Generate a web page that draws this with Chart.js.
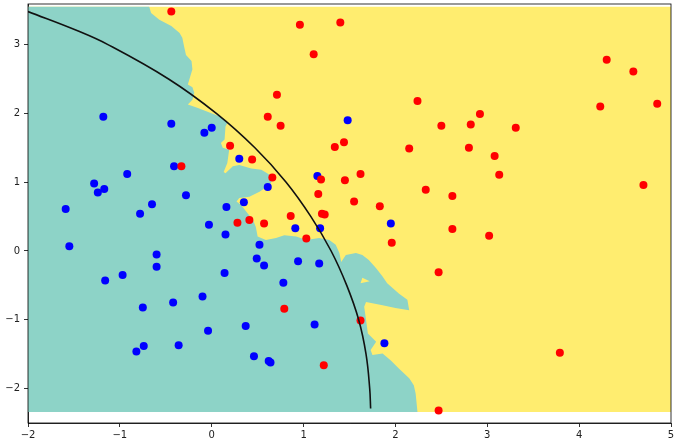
<!DOCTYPE html>
<html>
<head>
<meta charset="utf-8">
<script src="https://cdn.jsdelivr.net/npm/chart.js@4.4.0/dist/chart.umd.min.js"></script>
<style>
  html, body { margin: 0; padding: 0; background: #fff; }
  #chart { display: block; }
</style>
</head>
<body>
<canvas id="chart" width="675" height="441"></canvas>
<script>
var xTicks = [-2, -1, 0, 1, 2, 3, 4, 5];
var yTicks = [-2, -1, 0, 1, 2, 3];

// class 0 samples
var blueX = [-1.18, -0.44, -0.08, 0.00, 0.30, 1.48, -0.41, -0.92, -1.28, -1.17,
             -1.24, -0.28, -1.59, -0.65, -0.78, 0.16, -0.03, 0.15, -1.55, -0.60,
             -0.60, 0.14, -0.97, -1.16, 0.35, 0.61, 1.15, 0.91, 1.18, 1.95,
             0.52, 0.49, 0.57, 0.94, 1.17, 0.78, -0.10, -0.42, -0.75, -0.04,
             -0.74, -0.36, -0.82, 0.37, 1.12, 1.88, 0.46, 0.62, 0.64];
var blueY = [1.95, 1.85, 1.72, 1.79, 1.34, 1.90, 1.23, 1.12, 0.98, 0.90,
             0.85, 0.81, 0.61, 0.68, 0.54, 0.64, 0.38, 0.24, 0.07, -0.05,
             -0.23, -0.32, -0.35, -0.43, 0.71, 0.93, 1.09, 0.33, 0.33, 0.40,
             0.09, -0.11, -0.21, -0.15, -0.18, -0.46, -0.66, -0.75, -0.82, -1.16,
             -1.38, -1.37, -1.46, -1.09, -1.07, -1.34, -1.53, -1.60, -1.62];

// class 1 samples
var redX = [-0.44, 0.96, 1.40, 1.11, 0.71, 0.61, 0.75, 2.24, 2.50, 0.20,
            1.34, 1.44, 2.15, 4.30, 4.59, 4.23, 4.85, 2.92, 2.82, 3.31,
            2.80, 3.08, 3.13, 4.70, -0.33, 0.44, 0.66, 1.19, 1.45, 1.62,
            1.16, 1.55, 1.83, 2.33, 2.62, 0.86, 1.20, 1.23, 0.28, 0.41,
            0.57, 1.03, 1.96, 2.62, 3.02, 2.47, 0.79, 1.62, 1.22, 2.47, 3.79];
var redY = [3.48, 3.29, 3.32, 2.86, 2.27, 1.95, 1.82, 2.18, 1.82, 1.53,
            1.51, 1.58, 1.49, 2.78, 2.61, 2.10, 2.14, 1.99, 1.84, 1.79,
            1.50, 1.38, 1.11, 0.96, 1.23, 1.33, 1.07, 1.04, 1.03, 1.12,
            0.83, 0.72, 0.65, 0.89, 0.80, 0.51, 0.54, 0.53, 0.41, 0.45,
            0.40, 0.18, 0.12, 0.32, 0.22, -0.31, -0.84, -1.01, -1.66, -2.32, -1.48];

// reference boundary curve
var arcX = [-2.00, -1.46, -1.13, -0.47, 0.05, 0.47, 0.81, 1.08, 1.30, 1.47, 1.60, 1.68, 1.72, 1.73];
var arcY = [3.48, 3.20, 3.00, 2.50, 2.00, 1.50, 1.00, 0.50, 0.00, -0.50, -1.00, -1.50, -2.00, -2.29];

// grid extent of the classifier map
var meshX = [-2, 5, 5, -2];
var meshY = [-2.34, -2.34, 3.55, 3.55];

// region predicted as class 0
var tealX = [-2, -2, -0.68, -0.66, -0.57, -0.44, -0.35, -0.32, -0.30, -0.28,
             -0.22, -0.21, -0.26, -0.21, -0.19, -0.21, -0.26, -0.15, 0.08, 0.17,
             0.15, 0.14, 0.10, 0.12, 0.19, 0.17, 0.13, 0.15, 0.23, 0.30,
             0.43, 0.54, 0.63, 0.66, 0.63, 0.52, 0.41, 0.30, 0.27, 0.32,
             0.39, 0.45, 0.48, 0.50, 0.59, 0.70, 0.79, 0.92, 1.03, 1.17,
             1.28, 1.35, 1.39, 1.41, 1.46, 1.57, 1.64, 1.71, 1.79, 1.86,
             1.91, 2.04, 2.13, 2.15, 2.00, 1.86, 1.68, 1.66, 1.68, 1.70,
             1.79, 1.73, 1.75, 1.86, 1.95, 2.04, 2.15, 2.20, 2.22, 2.24];
var tealY = [-2.34, 3.55, 3.55, 3.46, 3.36, 3.27, 3.17, 3.10, 2.97, 2.85,
             2.76, 2.64, 2.42, 2.38, 2.30, 2.20, 2.13, 2.08, 1.96, 1.86,
             1.81, 1.62, 1.57, 1.50, 1.47, 1.28, 1.15, 1.13, 1.23, 1.25,
             1.20, 1.18, 1.11, 1.03, 0.96, 0.86, 0.79, 0.77, 0.72, 0.67,
             0.55, 0.45, 0.35, 0.21, 0.16, 0.19, 0.23, 0.21, 0.16, 0.19,
             0.16, 0.09, -0.03, -0.16, -0.06, -0.03, -0.06, -0.13, -0.25, -0.37,
             -0.47, -0.62, -0.71, -0.86, -0.83, -0.79, -0.74, -0.81, -1.00, -1.20,
             -1.32, -1.44, -1.51, -1.49, -1.59, -1.71, -1.85, -1.95, -2.07, -2.34];

// small class 1 patch inside the class 0 region
var islandX = [1.62, 1.64, 1.72];
var islandY = [-0.47, -0.39, -0.44];

function toPoints(xs, ys) {
  var pts = [];
  for (var i = 0; i < xs.length; i++) {
    pts.push({x: xs[i], y: ys[i]});
  }
  return pts;
}

function minus(v) {
  return String(v).replace('-', '\u2212');
}

var tickFont = {family: 'DejaVu Sans', size: 10};

var frame = {
  id: 'frame',
  afterDraw: function(chart) {
    var a = chart.chartArea, ctx = chart.ctx;
    ctx.save();
    ctx.strokeStyle = '#000';
    ctx.lineWidth = 0.8;
    ctx.strokeRect(a.left, a.top, a.right - a.left, a.bottom - a.top);
    ctx.restore();
  }
};

function region(xs, ys, color, order) {
  return {
    data: toPoints(xs, ys),
    showLine: true,
    fill: 'shape',
    backgroundColor: color,
    borderWidth: 0,
    pointRadius: 0,
    tension: 0,
    order: order
  };
}

var chart = new Chart(document.getElementById('chart'), {
  type: 'scatter',
  data: {
    datasets: [
      region(meshX, meshY, '#ffed6f', 10),
      region(tealX, tealY, '#8dd3c7', 9),
      region(islandX, islandY, '#ffed6f', 8),
      {
        data: toPoints(blueX, blueY),
        backgroundColor: '#0000ff',
        borderWidth: 0,
        pointRadius: 4,
        order: 3
      },
      {
        data: toPoints(redX, redY),
        backgroundColor: '#ff0000',
        borderWidth: 0,
        pointRadius: 4,
        order: 2
      },
      {
        data: toPoints(arcX, arcY),
        showLine: true,
        borderColor: '#111',
        borderWidth: 1.6,
        pointRadius: 0,
        fill: false,
        tension: 0.4,
        order: 1
      }
    ]
  },
  options: {
    responsive: false,
    animation: false,
    devicePixelRatio: 1,
    layout: {padding: {top: 4, right: 3, left: 0, bottom: 0}},
    plugins: {legend: {display: false}, tooltip: {enabled: false}},
    scales: {
      x: {
        type: 'linear',
        min: -2,
        max: 5,
        afterBuildTicks: function(s) { s.ticks = xTicks.map(function(v) { return {value: v}; }); },
        afterFit: function(s) { s.height = 18; s.paddingLeft = 0; s.paddingRight = 0; },
        grid: {display: true, drawOnChartArea: false, drawTicks: true, tickLength: 4, color: '#000', tickWidth: 0.8},
        border: {display: true, color: '#000', width: 0.8},
        ticks: {color: '#222', font: tickFont, padding: 2, maxRotation: 0, callback: minus}
      },
      y: {
        type: 'linear',
        min: -2.5,
        max: 3.59,
        afterBuildTicks: function(s) { s.ticks = yTicks.map(function(v) { return {value: v}; }); },
        afterFit: function(s) { s.width = 28; s.paddingTop = 0; s.paddingBottom = 0; },
        grid: {display: true, drawOnChartArea: false, drawTicks: true, tickLength: 4, color: '#000', tickWidth: 0.8},
        border: {display: true, color: '#000', width: 0.8},
        ticks: {color: '#222', font: tickFont, padding: 4, callback: minus}
      }
    }
  },
  plugins: [frame]
});
</script>
</body>
</html>
